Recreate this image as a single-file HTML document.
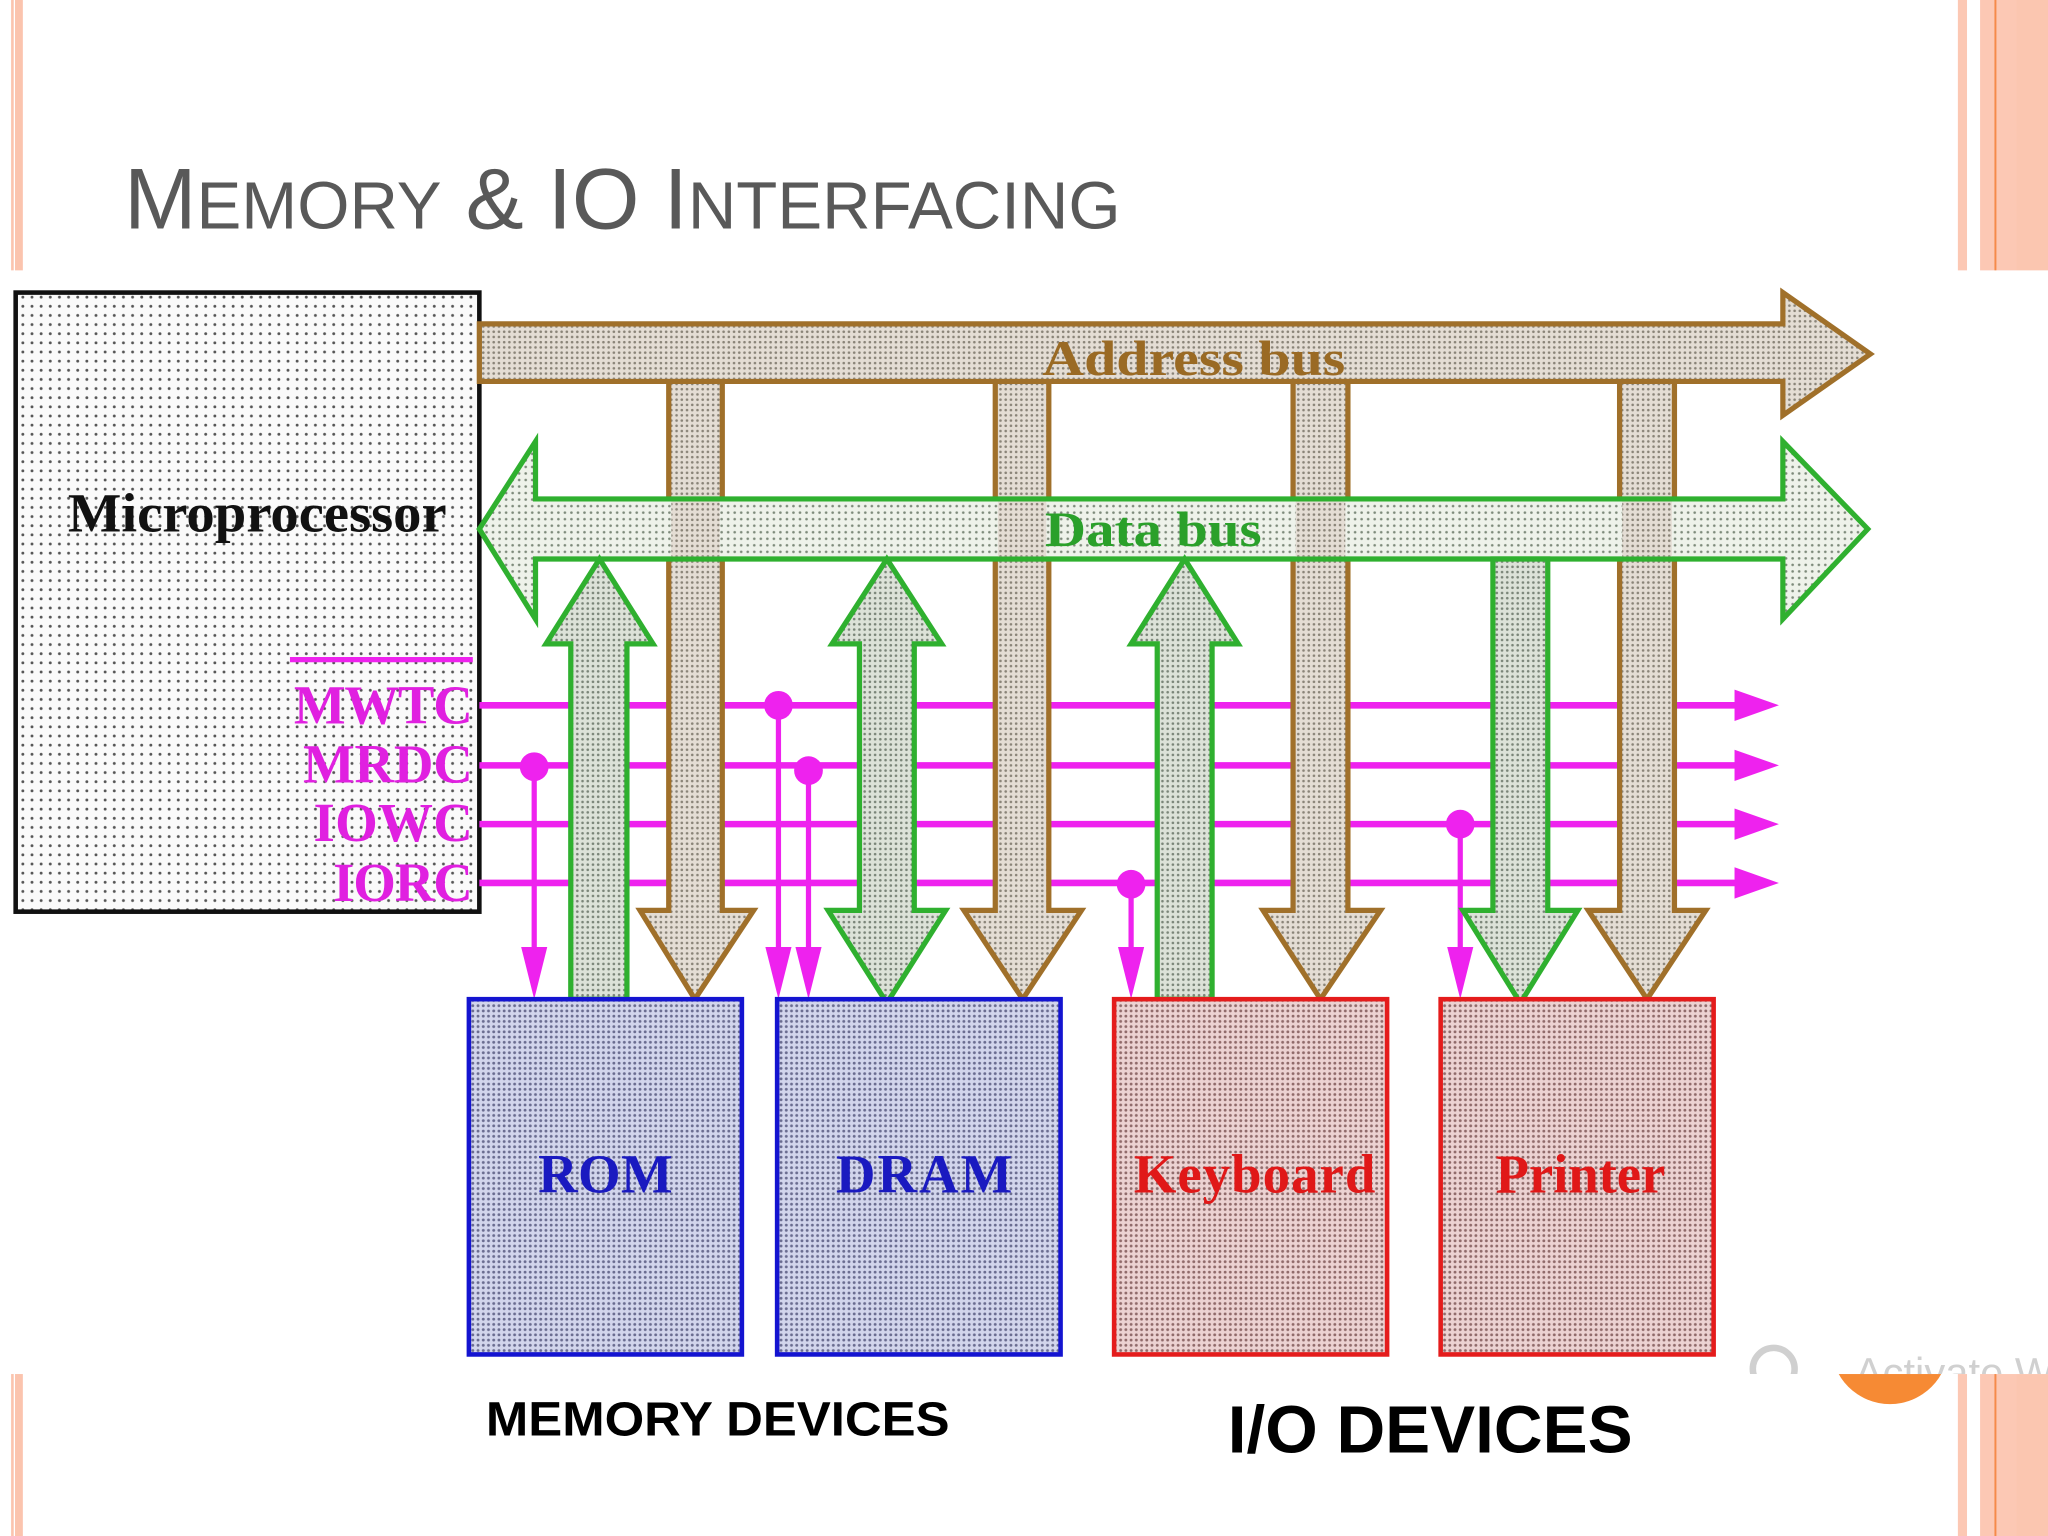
<!DOCTYPE html>
<html><head><meta charset="utf-8"><style>
html,body{margin:0;padding:0;background:#fff;}
svg{display:block;}
</style></head><body>
<svg width="2048" height="1536" viewBox="0 0 1568 1176" xmlns="http://www.w3.org/2000/svg">
<defs>
<pattern id="pm" width="7" height="7" patternUnits="userSpaceOnUse"><rect width="7" height="7" fill="#fafafa"/><circle cx="3.5" cy="3.5" r="1.1" fill="#555"/></pattern>
<pattern id="pa" width="4" height="4" patternUnits="userSpaceOnUse"><rect width="4" height="4" fill="#e4ddd4"/><circle cx="2" cy="2" r="1" fill="#8a8478"/></pattern>
<pattern id="pd" width="5" height="5" patternUnits="userSpaceOnUse"><rect width="5" height="5" fill="#eef2ea"/><circle cx="2.5" cy="2.5" r="1" fill="#7d8a7a"/></pattern>
<pattern id="pv" width="4" height="4" patternUnits="userSpaceOnUse"><rect width="4" height="4" fill="#dce2d8"/><circle cx="2" cy="2" r="1" fill="#7a8578"/></pattern>
<pattern id="pb" width="4" height="4" patternUnits="userSpaceOnUse"><rect width="4" height="4" fill="#d2d5ec"/><circle cx="2" cy="2" r="1.1" fill="#6a6c90"/></pattern>
<pattern id="pr" width="4" height="4" patternUnits="userSpaceOnUse"><rect width="4" height="4" fill="#ecd2d2"/><circle cx="2" cy="2" r="1.1" fill="#906a6a"/></pattern>
<clipPath id="imgclip"><rect x="0" y="207" width="1568" height="845"/></clipPath>
</defs>
<rect width="1568" height="1176" fill="#fff"/>
<!-- side stripes -->
<rect x="8.5" y="0" width="2" height="1176" fill="#fbc4ae"/>
<rect x="11.5" y="0" width="6" height="1176" fill="#fbc4ae"/>
<rect x="1499" y="0" width="7" height="1176" fill="#fcc8b4"/>
<rect x="1516" y="0" width="52" height="1176" fill="#fcc8b4"/>
<rect x="1527" y="0" width="1.5" height="1176" fill="#f58a4a"/>
<rect x="1544" y="0" width="24" height="1176" fill="#fbc6b0"/>
<!-- title -->
<text x="95" y="175" font-family="Liberation Sans, sans-serif" font-size="66" fill="#595959" textLength="763" lengthAdjust="spacingAndGlyphs">M<tspan font-size="51">EMORY</tspan> &amp; IO I<tspan font-size="51">NTERFACING</tspan></text>
<circle cx="1447" cy="1030" r="45" fill="#f68a34"/>
<!-- image area -->
<rect x="0" y="207" width="1568" height="845" fill="#fff"/>
<g clip-path="url(#imgclip)">
<text x="1420" y="1062" font-family="Liberation Sans, sans-serif" font-size="32" fill="#d0d0d0">Activate Wi</text>
<circle cx="1358" cy="1048" r="16" fill="none" stroke="#d0d0d0" stroke-width="5"/>
</g>

<!-- microprocessor -->
<rect x="12" y="224" width="355" height="474" fill="url(#pm)" stroke="#111" stroke-width="3.5"/>
<text x="52" y="407" font-family="Liberation Serif, serif" font-weight="bold" font-size="42" fill="#111" textLength="290" lengthAdjust="spacingAndGlyphs">Microprocessor</text>

<!-- control lines -->
<g stroke="#ee22ee" stroke-width="5">
<line x1="367" y1="540" x2="1335" y2="540"/>
<line x1="367" y1="586" x2="1335" y2="586"/>
<line x1="367" y1="631" x2="1335" y2="631"/>
<line x1="367" y1="676" x2="1335" y2="676"/>
<line x1="222" y1="505" x2="362" y2="505" stroke-width="4"/>
</g>
<g fill="#ee22ee">
<polygon points="1328,528 1362,540 1328,552"/>
<polygon points="1328,574 1362,586 1328,598"/>
<polygon points="1328,619 1362,631 1328,643"/>
<polygon points="1328,664 1362,676 1328,688"/>
</g>
<g font-family="Liberation Serif, serif" font-weight="bold" font-size="42" fill="#e020e0" lengthAdjust="spacingAndGlyphs">
<text x="225" y="554" textLength="137">MWTC</text>
<text x="232" y="599" textLength="130">MRDC</text>
<text x="240" y="644" textLength="122">IOWC</text>
<text x="255" y="690" textLength="107">IORC</text>
</g>
<!-- control drops -->
<g stroke="#ee22ee" stroke-width="4">
<line x1="409" y1="586" x2="409" y2="740"/>
<line x1="596" y1="540" x2="596" y2="740"/>
<line x1="619" y1="590" x2="619" y2="740"/>
<line x1="866" y1="677" x2="866" y2="740"/>
<line x1="1118" y1="631" x2="1118" y2="740"/>
</g>
<g fill="#ee22ee">
<circle cx="409" cy="587" r="11"/><circle cx="596" cy="540" r="11"/><circle cx="619" cy="590" r="11"/><circle cx="866" cy="677" r="11"/><circle cx="1118" cy="631" r="11"/>
<polygon points="399,725 419,725 409,765"/>
<polygon points="586,725 606,725 596,765"/>
<polygon points="609,725 629,725 619,765"/>
<polygon points="856,725 876,725 866,765"/>
<polygon points="1108,725 1128,725 1118,765"/>
</g>

<!-- address bus -->
<g fill="url(#pa)" stroke="#a0702a" stroke-width="4">
<polygon points="367,248 1365,248 1365,224 1432,271 1365,318 1365,292 367,292"/>
<polygon points="512,292 553,292 553,697 577,697 532,765 490,697 512,697"/>
<polygon points="762,292 803,292 803,697 828,697 783,765 738,697 762,697"/>
<polygon points="990,292 1032,292 1032,697 1057,697 1011,765 967,697 990,697"/>
<polygon points="1240,292 1282,292 1282,697 1306,697 1261,765 1216,697 1240,697"/>
</g>
<rect x="370" y="250" width="990" height="40" fill="url(#pa)"/>
<text x="798" y="287" font-family="Liberation Serif, serif" font-weight="bold" font-size="38" fill="#9a6a24" textLength="232" lengthAdjust="spacingAndGlyphs">Address  bus</text>

<!-- data bus -->
<polygon points="367,405 410,338 410,382 1365,382 1365,338 1430,405 1365,474 1365,428 410,428 410,474" fill="url(#pd)" stroke="#2fb02f" stroke-width="4"/>
<g fill="url(#pa)">
<rect x="514" y="384" width="37" height="42"/><rect x="764" y="384" width="37" height="42"/><rect x="992" y="384" width="38" height="42"/><rect x="1242" y="384" width="38" height="42"/>
</g>
<text x="800" y="418" font-family="Liberation Serif, serif" font-weight="bold" font-size="38" fill="#2aa02a" textLength="166" lengthAdjust="spacingAndGlyphs">Data  bus</text>
<g fill="url(#pv)" stroke="#2fb02f" stroke-width="4">
<polygon points="437,765 437,493 418,493 459,428 500,493 480,493 480,765"/>
<polygon points="658,697 658,493 637,493 679,428 721,493 700,493 700,697 724,697 679,768 634,697"/>
<polygon points="886,765 886,493 866,493 907,428 948,493 928,493 928,765"/>
<polygon points="1143,428 1185,428 1185,697 1208,697 1164,768 1120,697 1143,697"/>
</g>

<!-- devices -->
<rect x="359" y="765" width="209" height="272" fill="url(#pb)" stroke="#1414d0" stroke-width="3.5"/>
<rect x="595" y="765" width="217" height="272" fill="url(#pb)" stroke="#1414d0" stroke-width="3.5"/>
<rect x="853" y="765" width="209" height="272" fill="url(#pr)" stroke="#e41c1c" stroke-width="3.5"/>
<rect x="1103" y="765" width="209" height="272" fill="url(#pr)" stroke="#e41c1c" stroke-width="3.5"/>
<g font-family="Liberation Serif, serif" font-weight="bold" font-size="42" lengthAdjust="spacingAndGlyphs">
<text x="412" y="913" fill="#1a1ac0" textLength="103">ROM</text>
<text x="640" y="913" fill="#1a1ac0" textLength="135">DRAM</text>
<text x="868" y="913" fill="#e01818" textLength="185">Keyboard</text>
<text x="1145" y="913" fill="#e01818" textLength="130">Printer</text>
</g>

<text x="372" y="1099" font-family="Liberation Sans, sans-serif" font-weight="bold" font-size="37" fill="#000" textLength="355" lengthAdjust="spacingAndGlyphs">MEMORY DEVICES</text>
<text x="940" y="1112" font-family="Liberation Sans, sans-serif" font-weight="bold" font-size="51" fill="#000" textLength="310" lengthAdjust="spacingAndGlyphs">I/O DEVICES</text>
</svg>
</body></html>
